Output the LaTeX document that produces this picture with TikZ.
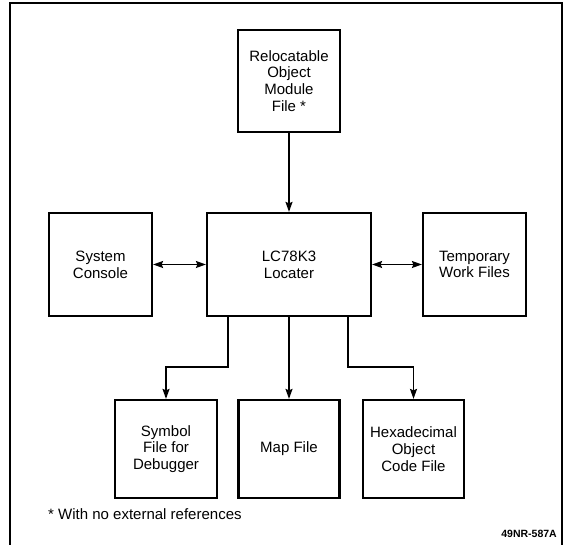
\documentclass[tikz,border=0pt]{standalone}
\usepackage{fontspec}
\setmainfont{Liberation Sans}
\usetikzlibrary{arrows.meta,calc,positioning}
\tikzset{
  filebox/.style={draw,line width=2.2pt,inner sep=0pt,align=center,minimum width=102pt,minimum height=102pt},
  flow/.style={line width=1.4pt,-{Stealth[length=10pt,width=7pt,inset=1.5pt]}},
  both/.style={line width=1.4pt,{Stealth[length=10pt,width=7pt,inset=1.5pt]}-{Stealth[length=10pt,width=7pt,inset=1.5pt]}}
}

\begin{document}
\begin{tikzpicture}[x=1pt,y=1pt,font=\fontsize{15}{16.8}\selectfont]
\useasboundingbox (0,0) rectangle (565,545);
% outer frame
\draw[line width=1.3pt] (10,-5) -- (10,542) -- (562,542) -- (562,-5);
% input module and locater row
\node[filebox] (reloc) at (289,464) {Relocatable\\Object\\Module\\File *};
\node[filebox,minimum width=164pt,minimum height=103pt] (locater) at (289,280.5) {LC78K3\\Locater};
\node[filebox,minimum width=103pt,minimum height=103pt] (console) at (100.5,280.5) {System\\Console};
\node[filebox,minimum width=103pt,minimum height=103pt] (tempfiles) at (474.5,280.5) {Temporary\\Work Files};
% output files
\node[filebox,minimum height=98pt] (symfile) at (166,96) {Symbol\\File for\\Debugger};
\node[filebox,minimum width=101pt,minimum height=98pt] (mapfile) at (289,96) {Map File};
\node[filebox,minimum width=101pt,minimum height=98pt] (hexfile) at (413.5,96) {Hexadecimal\\Object\\Code File};
% connections
\draw[flow] (reloc) -- (locater);
\draw[both] (console) -- (locater);
\draw[both] (locater) -- (tempfiles);
\draw[flow] ([xshift=22pt]locater.south west) -- ++(0,-50) -| (symfile.north);
\draw[flow] (locater) -- (mapfile);
\draw[flow] ([xshift=-24pt]locater.south east) -- ++(0,-50) -| (hexfile.north);
% footnote and figure number
\node[anchor=west,inner sep=0pt] (note) at (48,31) {* With no external references};
\node[anchor=east,inner sep=0pt,font=\fontsize{10.5}{12}\selectfont\bfseries] (fignum) at (557,11) {49NR-587A};
\end{tikzpicture}
\end{document}
